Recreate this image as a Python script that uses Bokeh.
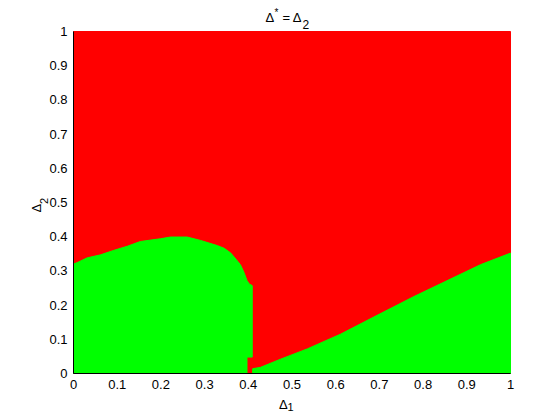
import math
from bokeh.plotting import figure
from bokeh.models import FixedTicker, Range1d
from bokeh.core.properties import value
from bokeh.embed import file_html
from bokeh.resources import INLINE

# ---- data ----
delta1_range = [0.0, 1.0]
delta2_range = [0.0, 1.0]

tick_values = [0, 0.1, 0.2, 0.3, 0.4, 0.5, 0.6, 0.7, 0.8, 0.9, 1]
tick_labels = ["0", "0.1", "0.2", "0.3", "0.4", "0.5", "0.6", "0.7", "0.8", "0.9", "1"]

# region where Delta* = Delta2 holds (green), left lobe outline
green_left_x = [0.0, 0.0, 0.01, 0.031, 0.062, 0.092, 0.123, 0.153, 0.199, 0.222,
                0.26, 0.291, 0.329, 0.345, 0.36, 0.372, 0.382, 0.39, 0.397, 0.402,
                0.409, 0.409, 0.397, 0.397]
green_left_y = [0.0, 0.32, 0.325, 0.338, 0.347, 0.36, 0.372, 0.386, 0.394, 0.399,
                0.399, 0.389, 0.374, 0.366, 0.352, 0.334, 0.318, 0.296, 0.272, 0.262,
                0.257, 0.048, 0.048, 0.0]

# right wedge outline
green_right_x = [0.41, 0.41, 0.428, 0.474, 0.535, 0.611, 0.687, 0.779, 0.931, 1.0, 1.0]
green_right_y = [0.0, 0.014, 0.018, 0.042, 0.072, 0.115, 0.165, 0.225, 0.318, 0.352, 0.0]

RED = "#FF0000"
GREEN = "#00FF00"
FONT = "Liberation Sans"

# ---- layout (pixels) ----
W, H = 552, 412
FL, FR, FT, FB = 73, 510, 31, 373          # where the unit square sits
sx_per = (FR - FL) / (delta1_range[1] - delta1_range[0])
sy_per = (FB - FT) / (delta2_range[1] - delta2_range[0])


def X(sx):
    return delta1_range[0] + (sx - FL) / sx_per


def Y(sy):
    return delta2_range[0] + (FB - sy) / sy_per


p = figure(width=W, height=H, output_backend="svg", toolbar_location=None,
           x_range=Range1d(X(0), X(W)), y_range=Range1d(Y(H), Y(0)),
           min_border=0, min_border_left=0, min_border_right=0,
           min_border_top=0, min_border_bottom=0)

p.outline_line_color = None
p.grid.visible = False
p.background_fill_color = "white"
p.border_fill_color = "white"

# red: everywhere in the unit square
p.quad(left=[delta1_range[0]], right=[delta1_range[1]],
       bottom=[delta2_range[0]], top=[delta2_range[1]],
       fill_color=RED, line_color=RED, line_width=1)

p.patch(green_left_x, green_left_y, fill_color=GREEN, line_color=GREEN, line_width=1)
p.patch(green_right_x, green_right_y, fill_color=GREEN, line_color=GREEN, line_width=1)

p.xaxis.fixed_location = delta2_range[0]
p.yaxis.fixed_location = delta1_range[0]
for ax in (p.xaxis[0], p.yaxis[0]):
    ax.bounds = (0, 1)
    ax.ticker = FixedTicker(ticks=tick_values, minor_ticks=[])
    ax.major_label_overrides = {v: l for v, l in zip(tick_values, tick_labels)}
    ax.major_tick_in = 0
    ax.major_tick_out = 0
    ax.minor_tick_in = 0
    ax.minor_tick_out = 0
    ax.axis_line_color = "black"
    ax.axis_line_width = 1
    ax.major_label_text_font = FONT
    ax.major_label_text_font_size = "13px"
    ax.major_label_text_color = "black"
    ax.major_label_standoff = 6


def txt(sx, sy, s, size="13px", angle=0.0):
    p.text(x=[X(sx)], y=[Y(sy)], text=[s], angle=angle,
           text_font=value(FONT), text_font_size=size, text_color="black",
           text_align="left", text_baseline="alphabetic")


# title  Δ^* = Δ_2
txt(265, 17.3, "Δ")
txt(274, 11.5, "*", size="10px")
txt(282, 17.3, "=")
txt(292.3, 17.3, "Δ")
txt(302, 23.5, "2", size="12px")

# x label  Δ_1
txt(278.5, 403.5, "Δ")
txt(287, 406.5, "1", size="11px")

# y label  Δ_2 (rotated)
txt(36, 212, "Δ", angle=math.pi / 2)
txt(43, 203.5, "2", size="11px", angle=math.pi / 2)

open("out.html", "w").write(file_html(p, INLINE))
